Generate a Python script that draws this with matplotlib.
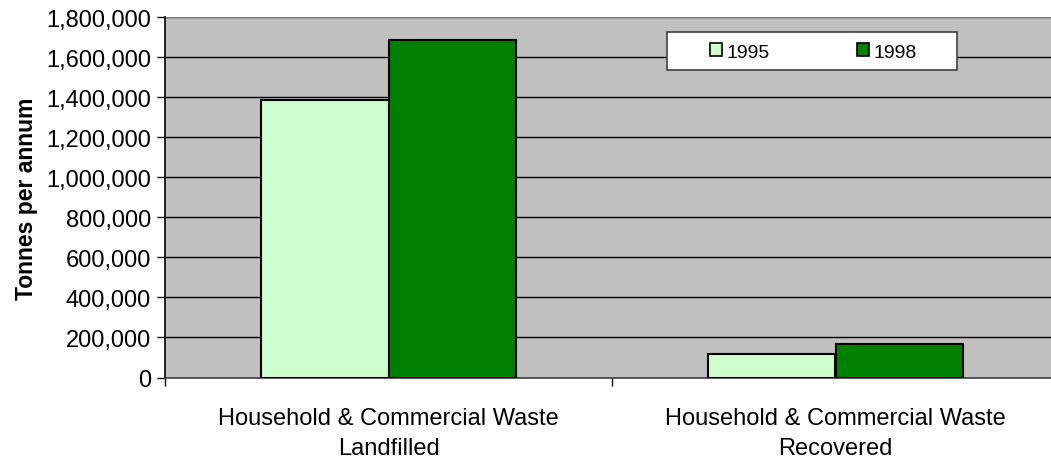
import matplotlib.pyplot as plt
from matplotlib.patches import Rectangle
from matplotlib.ticker import FuncFormatter, MultipleLocator, FixedLocator
import numpy as np

plt.rcParams['font.family'] = ['Liberation Sans', 'DejaVu Sans']

categories = ['Household & Commercial Waste\nLandfilled',
              'Household & Commercial Waste\nRecovered']
years = ['1995', '1998']
tonnes_1995 = [1385000, 119000]
tonnes_1998 = [1685000, 169000]
colors = ['#CCFFCC', '#008000']

W, H = 1051, 460
fig = plt.figure(figsize=(W / 100, H / 100), dpi=100)
# plot area runs off the right edge, as in the original sheet
ax_l, ax_b, ax_w, ax_h = 165, 81.5, 894, 360.2
ax = fig.add_axes([ax_l / W, ax_b / H, ax_w / W, ax_h / H])
ax.set_facecolor('#C0C0C0')

x = np.arange(len(categories))
w = 0.286
ax.bar(x - w / 2, tonnes_1995, w, color=colors[0], edgecolor='black',
       linewidth=1.5, label=years[0], zorder=3)
ax.bar(x + w / 2, tonnes_1998, w, color=colors[1], edgecolor='black',
       linewidth=1.5, label=years[1], zorder=3)

ax.set_xlim(-0.5, 1.5)
ax.set_ylim(0, 1800000)
ax.yaxis.set_major_locator(MultipleLocator(200000))
ax.yaxis.set_major_formatter(FuncFormatter(lambda v, p: f'{int(v):,}'))
ax.grid(axis='y', color='black', linewidth=1, zorder=1)

ax.set_xticks(x)
ax.set_xticklabels(categories, fontsize=17, linespacing=1.5)
ax.tick_params(axis='x', length=0, pad=21)
ax.xaxis.set_minor_locator(FixedLocator([-0.5, 0.5, 1.5]))
ax.tick_params(axis='x', which='minor', length=6, width=1, direction='out')
ax.tick_params(axis='y', labelsize=17, length=6, width=1, direction='out', pad=4)

for side in ['top', 'right']:
    ax.spines[side].set_visible(False)
ax.spines['left'].set_color('black')
ax.spines['left'].set_linewidth(1.2)
ax.spines['bottom'].set_color('#404040')
ax.spines['bottom'].set_linewidth(1.2)
ax.axhline(1800000, color='#808080', linewidth=1.5, zorder=2)

ax.set_ylabel('Tonnes per annum', fontsize=16.5, fontweight='bold', labelpad=6)

# legend: white box, two centred entries
def to_ax(px, py):
    return (px - ax_l) / ax_w, (H - ax_b - py) / ax_h

x0, y1 = to_ax(667, 33.3)
x1, y0 = to_ax(957, 71)
ax.add_patch(Rectangle((x0, y0), x1 - x0, y1 - y0, transform=ax.transAxes,
                       facecolor='white', edgecolor='#404040', linewidth=1.2,
                       zorder=5))
lx, ly = to_ax(710, 53)
leg = ax.legend(ncol=2, loc='center left', bbox_to_anchor=(lx, ly),
                fontsize=14, frameon=False, handlelength=0.6, handleheight=0.6,
                handletextpad=0.25, columnspacing=4.5, borderpad=0,
                borderaxespad=0)
leg.set_zorder(6)
for h in leg.legend_handles:
    h.set_linewidth(1.2)

fig.savefig('out.png', dpi=100)
